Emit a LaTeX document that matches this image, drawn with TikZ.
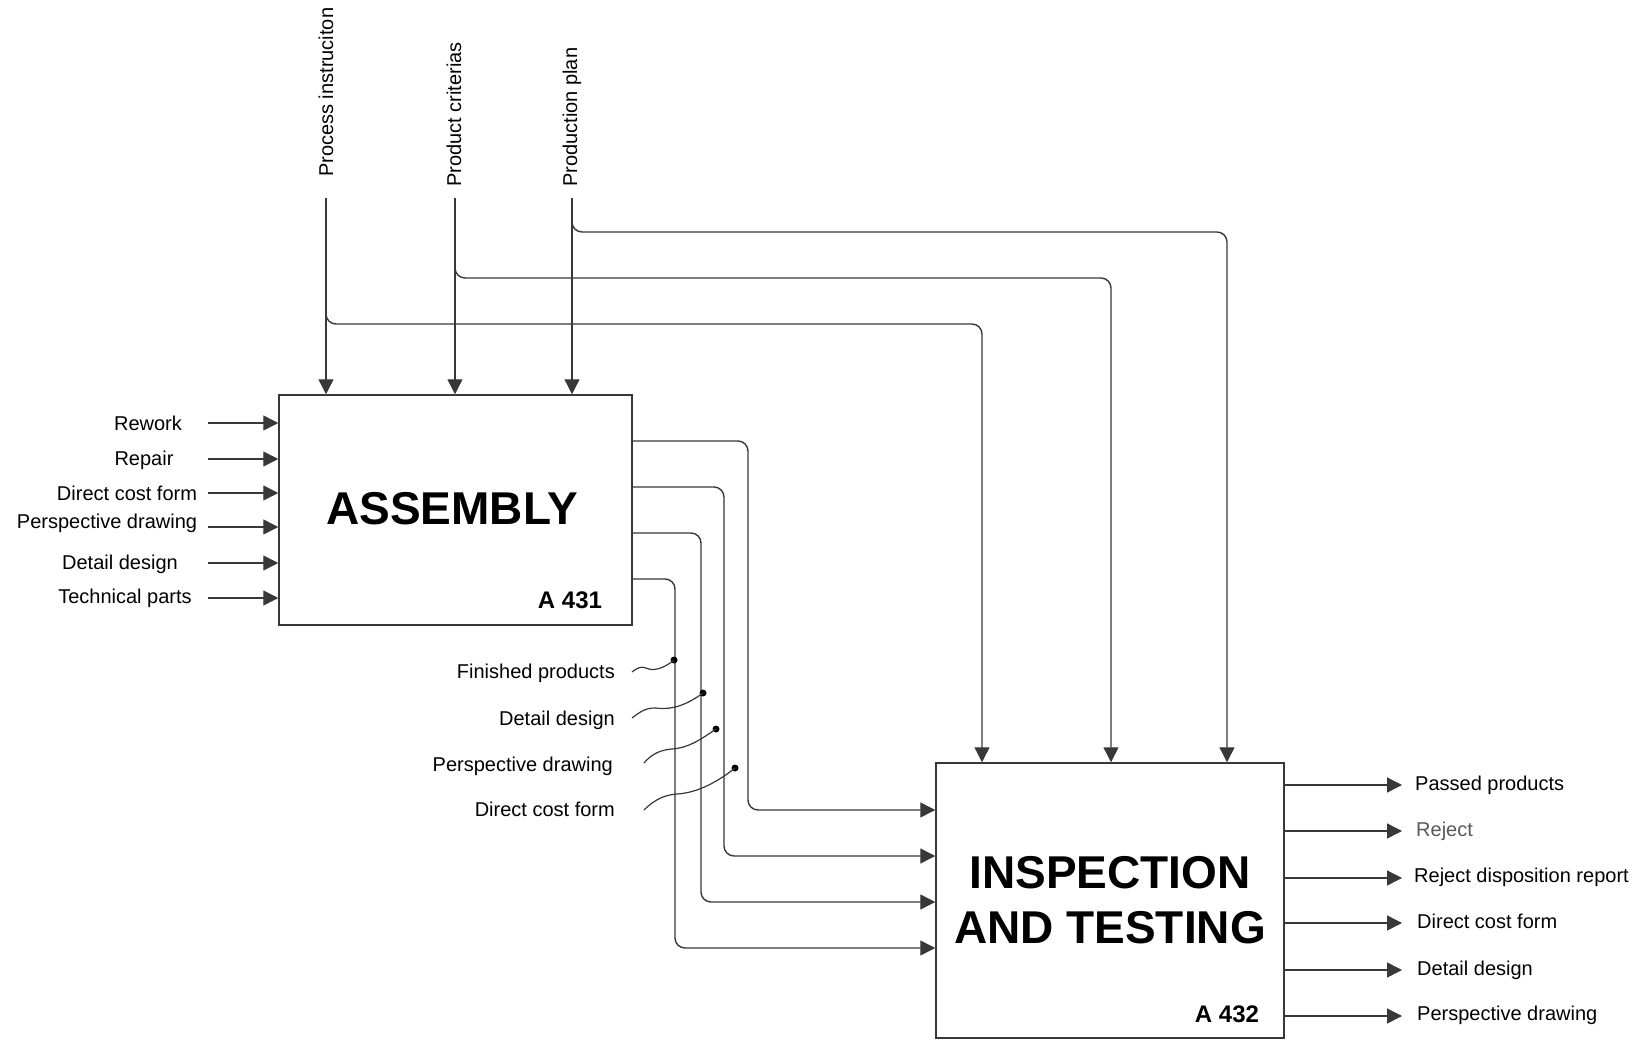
\documentclass[tikz,border=0pt]{standalone}
\usepackage{fontspec}
\setmainfont{Liberation Sans}
\usetikzlibrary{arrows.meta}
\begin{document}
\begin{tikzpicture}[x=1pt,y=-1pt,
  ln/.style={line width=1.4pt, draw=black!78},
  arr/.style={ln, -{Triangle[length=15pt,width=15pt]}},
  rnd/.style={arr, rounded corners=10pt},
  box/.style={draw=black!78, line width=1.5pt, inner sep=0pt},
  lbl/.style={font=\fontsize{20}{22}\selectfont, inner sep=0pt, text=black},
  ttl/.style={font=\bfseries\fontsize{46}{50}\selectfont, inner sep=0pt},
  num/.style={font=\bfseries\fontsize{24}{26}\selectfont, inner sep=0pt},
  dotn/.style={circle, fill=black, inner sep=0pt, minimum size=7pt},
  sq/.style={line width=1.2pt, draw=black!78}
]
\fill[white] (0,0) rectangle (1648,1040);
\useasboundingbox (0,0) rectangle (1648,1040);

% boxes
\node[box, minimum width=353pt, minimum height=230pt] (A) at (455.5,510) {};
\node[box, minimum width=348pt, minimum height=275pt] (B) at (1110,900.5) {};
\node[ttl, anchor=base] (At) at (452,524) {ASSEMBLY};
\node[num, anchor=base] (An) at (570,608) {A 431};
\node[ttl, anchor=base] (Bt1) at (1110,888) {INSPECTION};
\node[ttl, anchor=base] (Bt2) at (1110,943) {AND TESTING};
\node[num, anchor=base] (Bn) at (1227,1022) {A 432};

% controls (top)
\node[lbl, rotate=90, anchor=base west] (t1) at (333,177) {Process instruciton};
\node[lbl, rotate=90, anchor=base west] (t2) at (461,187) {Product criterias};
\node[lbl, rotate=90, anchor=base west] (t3) at (577,187) {Production plan};
\coordinate (c1) at (326,198);
\coordinate (c2) at (455,198);
\coordinate (c3) at (572,198);
\coordinate (k1) at (982,0);
\coordinate (k2) at (1111,0);
\coordinate (k3) at (1227,0);
\draw[arr] (c1) -- (c1 |- A.north);
\draw[arr] (c2) -- (c2 |- A.north);
\draw[arr] (c3) -- (c3 |- A.north);
\draw[rnd] (326,305) -- (326,324) -- (982,324) -- (k1 |- B.north);
\draw[rnd] (455,260) -- (455,278) -- (1111,278) -- (k2 |- B.north);
\draw[rnd] (572,214) -- (572,232) -- (1227,232) -- (k3 |- B.north);

% inputs of A
\node[lbl, anchor=base] (i1) at (148,430) {Rework};
\node[lbl, anchor=base] (i2) at (144,465) {Repair};
\node[lbl, anchor=base] (i3) at (127,500) {Direct cost form};
\node[lbl, anchor=base] (i4) at (107,528) {Perspective drawing};
\node[lbl, anchor=base] (i5) at (120,569) {Detail design};
\node[lbl, anchor=base] (i6) at (125,603) {Technical parts};
\coordinate (s1) at (208,423);
\coordinate (s2) at (208,459);
\coordinate (s3) at (208,493);
\coordinate (s4) at (208,527);
\coordinate (s5) at (208,563);
\coordinate (s6) at (208,598);
\foreach \s in {s1,s2,s3,s4,s5,s6}{
  \draw[arr] (\s) -- (\s -| A.west);
}

% A outputs to B inputs
\coordinate (y1) at (0,441);
\coordinate (y2) at (0,487);
\coordinate (y3) at (0,533);
\coordinate (y4) at (0,579);
\coordinate (z1) at (0,810);
\coordinate (z2) at (0,856);
\coordinate (z3) at (0,902);
\coordinate (z4) at (0,948);
\draw[rnd] (A.east |- y1) -- (748,441) -- (748,810) -- (B.west |- z1);
\draw[rnd] (A.east |- y2) -- (724,487) -- (724,856) -- (B.west |- z2);
\draw[rnd] (A.east |- y3) -- (701,533) -- (701,902) -- (B.west |- z3);
\draw[rnd] (A.east |- y4) -- (675,579) -- (675,948) -- (B.west |- z4);

% labels of those arrows with squiggles
\node[lbl, anchor=base east] (m1) at (615,678) {Finished products};
\node[lbl, anchor=base east] (m2) at (615,725) {Detail design};
\node[lbl, anchor=base east] (m3) at (613,771) {Perspective drawing};
\node[lbl, anchor=base east] (m4) at (615,816) {Direct cost form};
\node[dotn] (d1) at (674,660) {};
\node[dotn] (d2) at (703,693) {};
\node[dotn] (d3) at (716,729) {};
\node[dotn] (d4) at (735,768) {};
\coordinate (q1) at (632,672);
\coordinate (q2) at (632,718);
\coordinate (q3) at (644,763);
\coordinate (q4) at (644,810);
\draw[sq] (q1) .. controls (637,668) and (641,666) .. (646,668) .. controls (652,671) and (662,670) .. (d1.center);
\draw[sq] (q2) .. controls (640,712) and (645,708) .. (655,708) .. controls (665,709) and (680,710) .. (d2.center);
\draw[sq] (q3) .. controls (650,756) and (658,750) .. (672,749) .. controls (688,748) and (700,740) .. (d3.center);
\draw[sq] (q4) .. controls (652,802) and (662,795) .. (677,794) .. controls (695,793) and (715,784) .. (d4.center);

% outputs of B
\coordinate (e1) at (1402,785);
\coordinate (e2) at (1402,831);
\coordinate (e3) at (1402,878);
\coordinate (e4) at (1402,923);
\coordinate (e5) at (1402,970);
\coordinate (e6) at (1402,1016);
\foreach \e in {e1,e2,e3,e4,e5,e6}{
  \draw[arr] (B.east |- \e) -- (\e);
}
\node[lbl, anchor=base west] (o1) at (1415,790) {Passed products};
\node[lbl, anchor=base west, text=black!65] (o2) at (1416,836) {Reject};
\node[lbl, anchor=base west] (o3) at (1414,882) {Reject disposition report};
\node[lbl, anchor=base west] (o4) at (1417,928) {Direct cost form};
\node[lbl, anchor=base west] (o5) at (1417,975) {Detail design};
\node[lbl, anchor=base west] (o6) at (1417,1020) {Perspective drawing};
\end{tikzpicture}
\end{document}
